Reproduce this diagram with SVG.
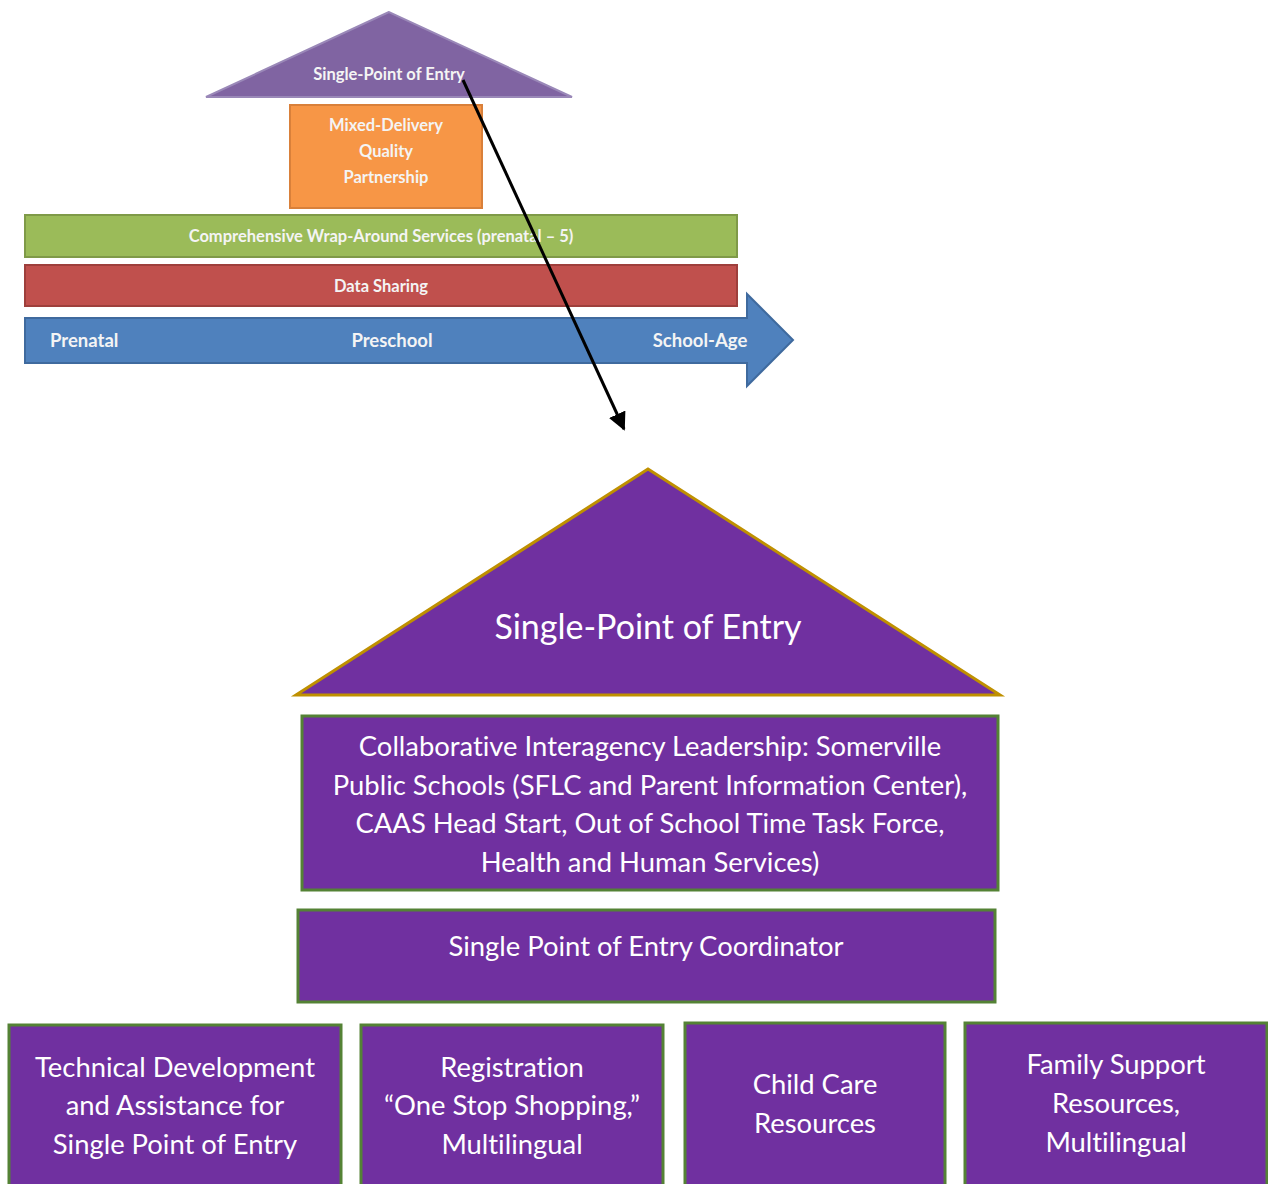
<svg xmlns="http://www.w3.org/2000/svg" width="1268" height="1184" viewBox="0 0 1268 1184">
<defs>
<style>
text{font-variant-ligatures:none}
.sm{font-family:Lato,"Liberation Sans",sans-serif;font-weight:bold;fill:#f4f4f4;text-anchor:middle;font-size:16.5px}
.tl{font-family:Lato,"Liberation Sans",sans-serif;font-weight:bold;fill:#f4f4f4;text-anchor:middle;font-size:18.5px}
.big{font-family:Lato,"Liberation Sans",sans-serif;fill:#ffffff;text-anchor:middle;font-size:27.4px}
.title{font-family:Lato,"Liberation Sans",sans-serif;fill:#ffffff;text-anchor:middle;font-size:34px}
.pbox{fill:#7030A0;stroke:#548235;stroke-width:3}
</style>
<marker id="ah" viewBox="0 0 10 10" refX="9" refY="5" markerWidth="6" markerHeight="6" orient="auto-start-reverse" markerUnits="strokeWidth">
<path d="M0,0 L10,5 L0,10 z" fill="#000"/>
</marker>
</defs>
<rect width="1268" height="1184" fill="#ffffff"/>
<g id="small-roof">
<polygon points="389,12 206,97 572,97" fill="#8064A2" stroke="#9a88b8" stroke-width="2"/>
<text class="sm" x="389" y="80">Single-Point of Entry</text>
</g>
<g id="mixed-delivery">
<rect x="290" y="105" width="192" height="103" fill="#F79646" stroke="#d9803a" stroke-width="2"/>
<text class="sm" x="386" y="131">Mixed-Delivery</text>
<text class="sm" x="386" y="157">Quality</text>
<text class="sm" x="386" y="183">Partnership</text>
</g>
<g id="wrap-around">
<rect x="25" y="215" width="712" height="42" fill="#9BBB59" stroke="#7f9a48" stroke-width="2"/>
<text class="sm" x="381" y="242">Comprehensive Wrap-Around Services (prenatal – 5)</text>
</g>
<g id="data-sharing">
<rect x="25" y="265" width="712" height="41" fill="#C0504D" stroke="#9e3f3c" stroke-width="2"/>
<text class="sm" x="381" y="292">Data Sharing</text>
</g>
<g id="timeline">
<polygon points="25,318 747,318 747,294 793,340 747,386 747,363 25,363" fill="#4F81BD" stroke="#3f6a9e" stroke-width="2"/>
<text class="tl" x="50" y="347" style="text-anchor:start">Prenatal</text>
<text class="tl" x="392" y="347">Preschool</text>
<text class="tl" x="700" y="347">School-Age</text>
</g>
<g id="connectors">
<line x1="463" y1="80" x2="624" y2="429" stroke="#000" stroke-width="3" marker-end="url(#ah)"/>
</g>
<g id="roof">
<polygon points="648,469 296,695 1000,695" fill="#7030A0" stroke="#BF9000" stroke-width="3"/>
<text class="title" x="648" y="639">Single-Point of Entry</text>
</g>
<g id="leadership">
<rect class="pbox" x="302" y="716" width="696" height="174"/>
<text class="big" x="650" y="756">Collaborative Interagency Leadership: Somerville</text>
<text class="big" x="650" y="795">Public Schools (SFLC and Parent Information Center),</text>
<text class="big" x="650" y="833">CAAS Head Start, Out of School Time Task Force,</text>
<text class="big" x="650" y="872">Health and Human Services)</text>
</g>
<g id="coordinator">
<rect class="pbox" x="298" y="910" width="697" height="92"/>
<text class="big" x="646" y="956">Single Point of Entry Coordinator</text>
</g>
<g id="technical">
<rect class="pbox" x="9" y="1025" width="332" height="170"/>
<text class="big" x="175" y="1077">Technical Development</text>
<text class="big" x="175" y="1115">and Assistance for</text>
<text class="big" x="175" y="1154">Single Point of Entry</text>
</g>
<g id="registration">
<rect class="pbox" x="361" y="1025" width="302" height="170"/>
<text class="big" x="512" y="1077">Registration</text>
<text class="big" x="512" y="1115">“One Stop Shopping,”</text>
<text class="big" x="512" y="1154">Multilingual</text>
</g>
<g id="child-care">
<rect class="pbox" x="685" y="1023" width="260" height="172"/>
<text class="big" x="815" y="1094">Child Care</text>
<text class="big" x="815" y="1133">Resources</text>
</g>
<g id="family-support">
<rect class="pbox" x="965" y="1023" width="302" height="172"/>
<text class="big" x="1116" y="1074">Family Support</text>
<text class="big" x="1116" y="1113">Resources,</text>
<text class="big" x="1116" y="1152">Multilingual</text>
</g>
</svg>
